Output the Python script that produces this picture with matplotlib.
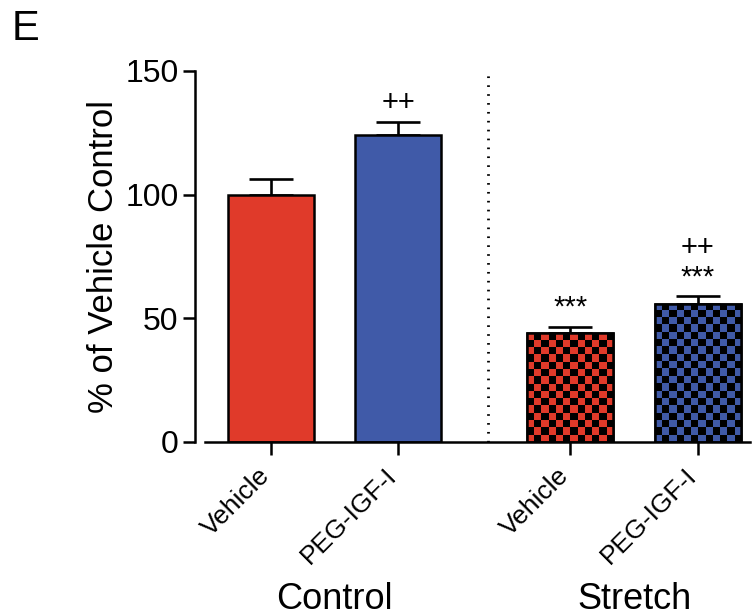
import numpy as np
import matplotlib.pyplot as plt
from matplotlib.colors import ListedColormap
from matplotlib.transforms import blended_transform_factory

plt.rcParams['font.family'] = ['Liberation Sans', 'DejaVu Sans']

# data
labels = ['Vehicle', 'PEG-IGF-I', 'Vehicle', 'PEG-IGF-I']
groups = ['Control', 'Stretch']
means = [100.0, 124.0, 44.0, 55.8]
sems = [6.3, 5.4, 2.5, 3.2]
marks = ['', '++', '***', '++\n***']
checkered = [False, False, True, True]

red = '#E03A2A'
blue = '#405AA8'
colors = [red, blue, red, blue]

xpos = np.array([0.0, 1.0, 2.355, 3.36])
width = 0.68

fig = plt.figure(figsize=(7.55, 6.16), dpi=100)
ax = fig.add_axes([0.2715, 0.2825, 0.7219, 0.6023])

ax.errorbar(xpos, means, yerr=[np.zeros(4), sems], fmt='none', ecolor='k',
            elinewidth=1.9, capsize=16, capthick=1.9, zorder=1)

bars = ax.bar(xpos, means, width, color=colors, edgecolor='k', linewidth=1.8, zorder=2)

# checkerboard fill for the stretch bars
cell_y = 2.95
ncols = 12
for b, c, chk in zip(bars, colors, checkered):
    if not chk:
        continue
    x0, y0 = b.get_x(), b.get_y()
    w, h = b.get_width(), b.get_height()
    nrows = int(np.ceil(h / cell_y))
    ii, jj = np.indices((nrows, ncols))
    board = ((ii + jj) % 2)[::-1]
    im = ax.imshow(board, cmap=ListedColormap([c, 'black']), aspect='auto',
                   interpolation='nearest',
                   extent=[x0, x0 + w, y0, y0 + nrows * cell_y], zorder=2.5)
    im.set_clip_path(b)
    ax.bar(b.get_x() + w / 2, h, w, color='none', edgecolor='k', linewidth=1.8, zorder=3)

for x, m, s, t in zip(xpos, means, sems, marks):
    if t:
        ax.text(x, m + s + 2, t, ha='center', va='bottom', fontsize=21, linespacing=1.05)

ax.axvline((xpos[1] + xpos[2]) / 2 + 0.03, color='k', linestyle=(0, (0.6, 2.6)),
           linewidth=2, ymax=1.0)

ax.set_xlim(-0.52, 3.77)
ax.set_ylim(0, 150)
ax.set_yticks([0, 50, 100, 150])
ax.set_xticks(xpos)
ax.set_xticklabels(labels, rotation=45, ha='right', va='baseline',
                   rotation_mode='anchor', fontsize=19)
ax.tick_params(axis='y', labelsize=23, length=9, width=1.8, pad=3)
ax.tick_params(axis='x', length=9, width=1.8, pad=16)
ax.spines['top'].set_visible(False)
ax.spines['right'].set_visible(False)
ax.spines['left'].set_position(('outward', 7))
ax.spines['left'].set_linewidth(1.8)
ax.spines['bottom'].set_linewidth(1.8)
ax.set_ylabel('% of Vehicle Control', fontsize=25, labelpad=4)

trans = blended_transform_factory(ax.transData, ax.transAxes)
for g, x in zip(groups, [xpos[:2].mean(), xpos[2:].mean()]):
    ax.text(x, -167 / 371, g, transform=trans, ha='center', va='baseline', fontsize=26)

fig.text(0.015, 0.985, 'E', fontsize=30, va='top', ha='left')

fig.savefig('out.png', dpi=100)
